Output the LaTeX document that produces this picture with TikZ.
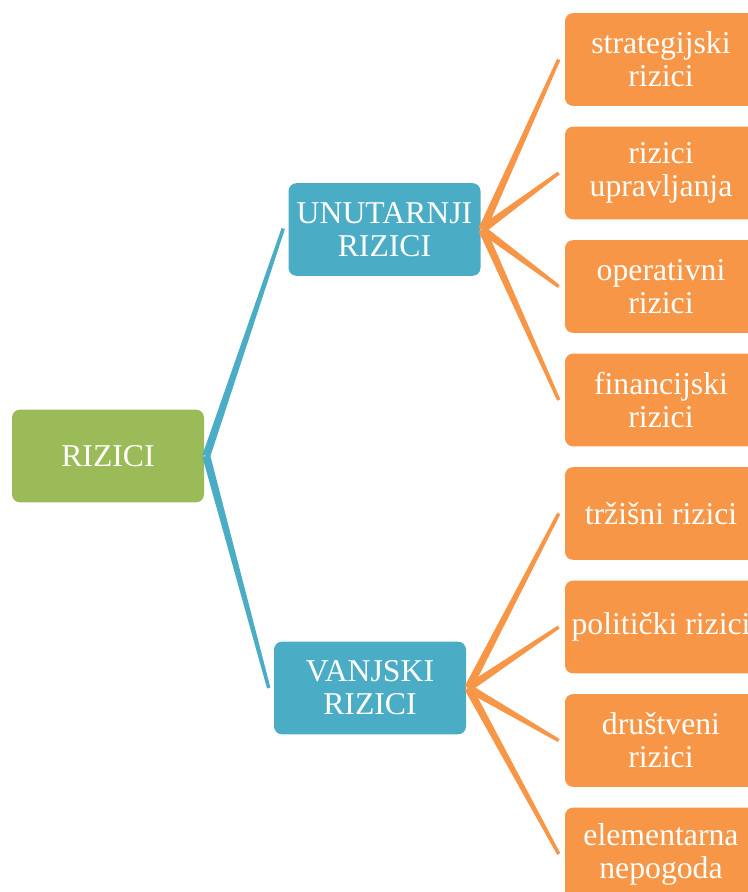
\documentclass[tikz,border=0pt]{standalone}
\usepackage{fontspec}
\setmainfont{Liberation Serif}
\usetikzlibrary{calc}
\definecolor{cgreen}{HTML}{9BBB59}
\definecolor{cblue}{HTML}{4BACC6}
\definecolor{corange}{HTML}{F79646}
\newcommand\taperline[3]{\fill[#3] ($(#1)!3.0pt!90:(#2)$) -- ($(#2)!1.3pt!-90:(#1)$) -- ($(#2)!1.3pt!90:(#1)$) -- ($(#1)!3.0pt!-90:(#2)$) -- cycle;}
\begin{document}
\begin{tikzpicture}[x=0.75pt,y=-0.75pt,
  box/.style={rounded corners=6pt, minimum width=144pt, minimum height=69.5pt, inner sep=0pt, align=center, text=white, font=\fontsize{23.8}{24.8}\selectfont},
  rootbox/.style={box, fill=cgreen},
  midbox/.style={box, fill=cblue},
  leafbox/.style={box, fill=corange}]
\useasboundingbox (0,0) rectangle (748,892);
\begin{scope}
\clip (0,0) rectangle (748,892);
\node[rootbox] (root) at (108,456) {RIZICI};
\node[midbox] (u) at (384.5,229.5) {UNUTARNJI\\RIZICI};
\node[midbox] (v) at (370,688) {VANJSKI\\RIZICI};
\node[leafbox] (l1) at (661,59.5) {strategijski\\rizici};
\node[leafbox] (l2) at (661,173) {rizici\\upravljanja};
\node[leafbox] (l3) at (661,286.5) {operativni\\rizici};
\node[leafbox] (l4) at (661,400) {financijski\\rizici};
\node[leafbox] (l5) at (661,513.5) {tržišni rizici};
\node[leafbox] (l6) at (661,627) {politički rizici};
\node[leafbox] (l7) at (661,740.5) {društveni\\rizici};
\node[leafbox] (l8) at (661,854) {elementarna\\nepogoda};
% connector points
\coordinate (rv) at ($(root.east)+(2,0)$);
\coordinate (ui) at ($(u.west)+(-5,-1)$);
\coordinate (vi) at ($(v.west)+(-5,0)$);
\coordinate (uo) at ($(u.east)+(1.5,0)$);
\coordinate (vo) at ($(v.east)+(2,0)$);
\foreach \i in {1,...,8}{\coordinate (e\i) at ($(l\i.west)+(-6,0)$);}
\taperline{rv}{ui}{cblue}
\taperline{rv}{vi}{cblue}
\foreach \i in {1,...,4}{\taperline{uo}{e\i}{corange}}
\foreach \i in {5,...,8}{\taperline{vo}{e\i}{corange}}
\end{scope}
\end{tikzpicture}
\end{document}
